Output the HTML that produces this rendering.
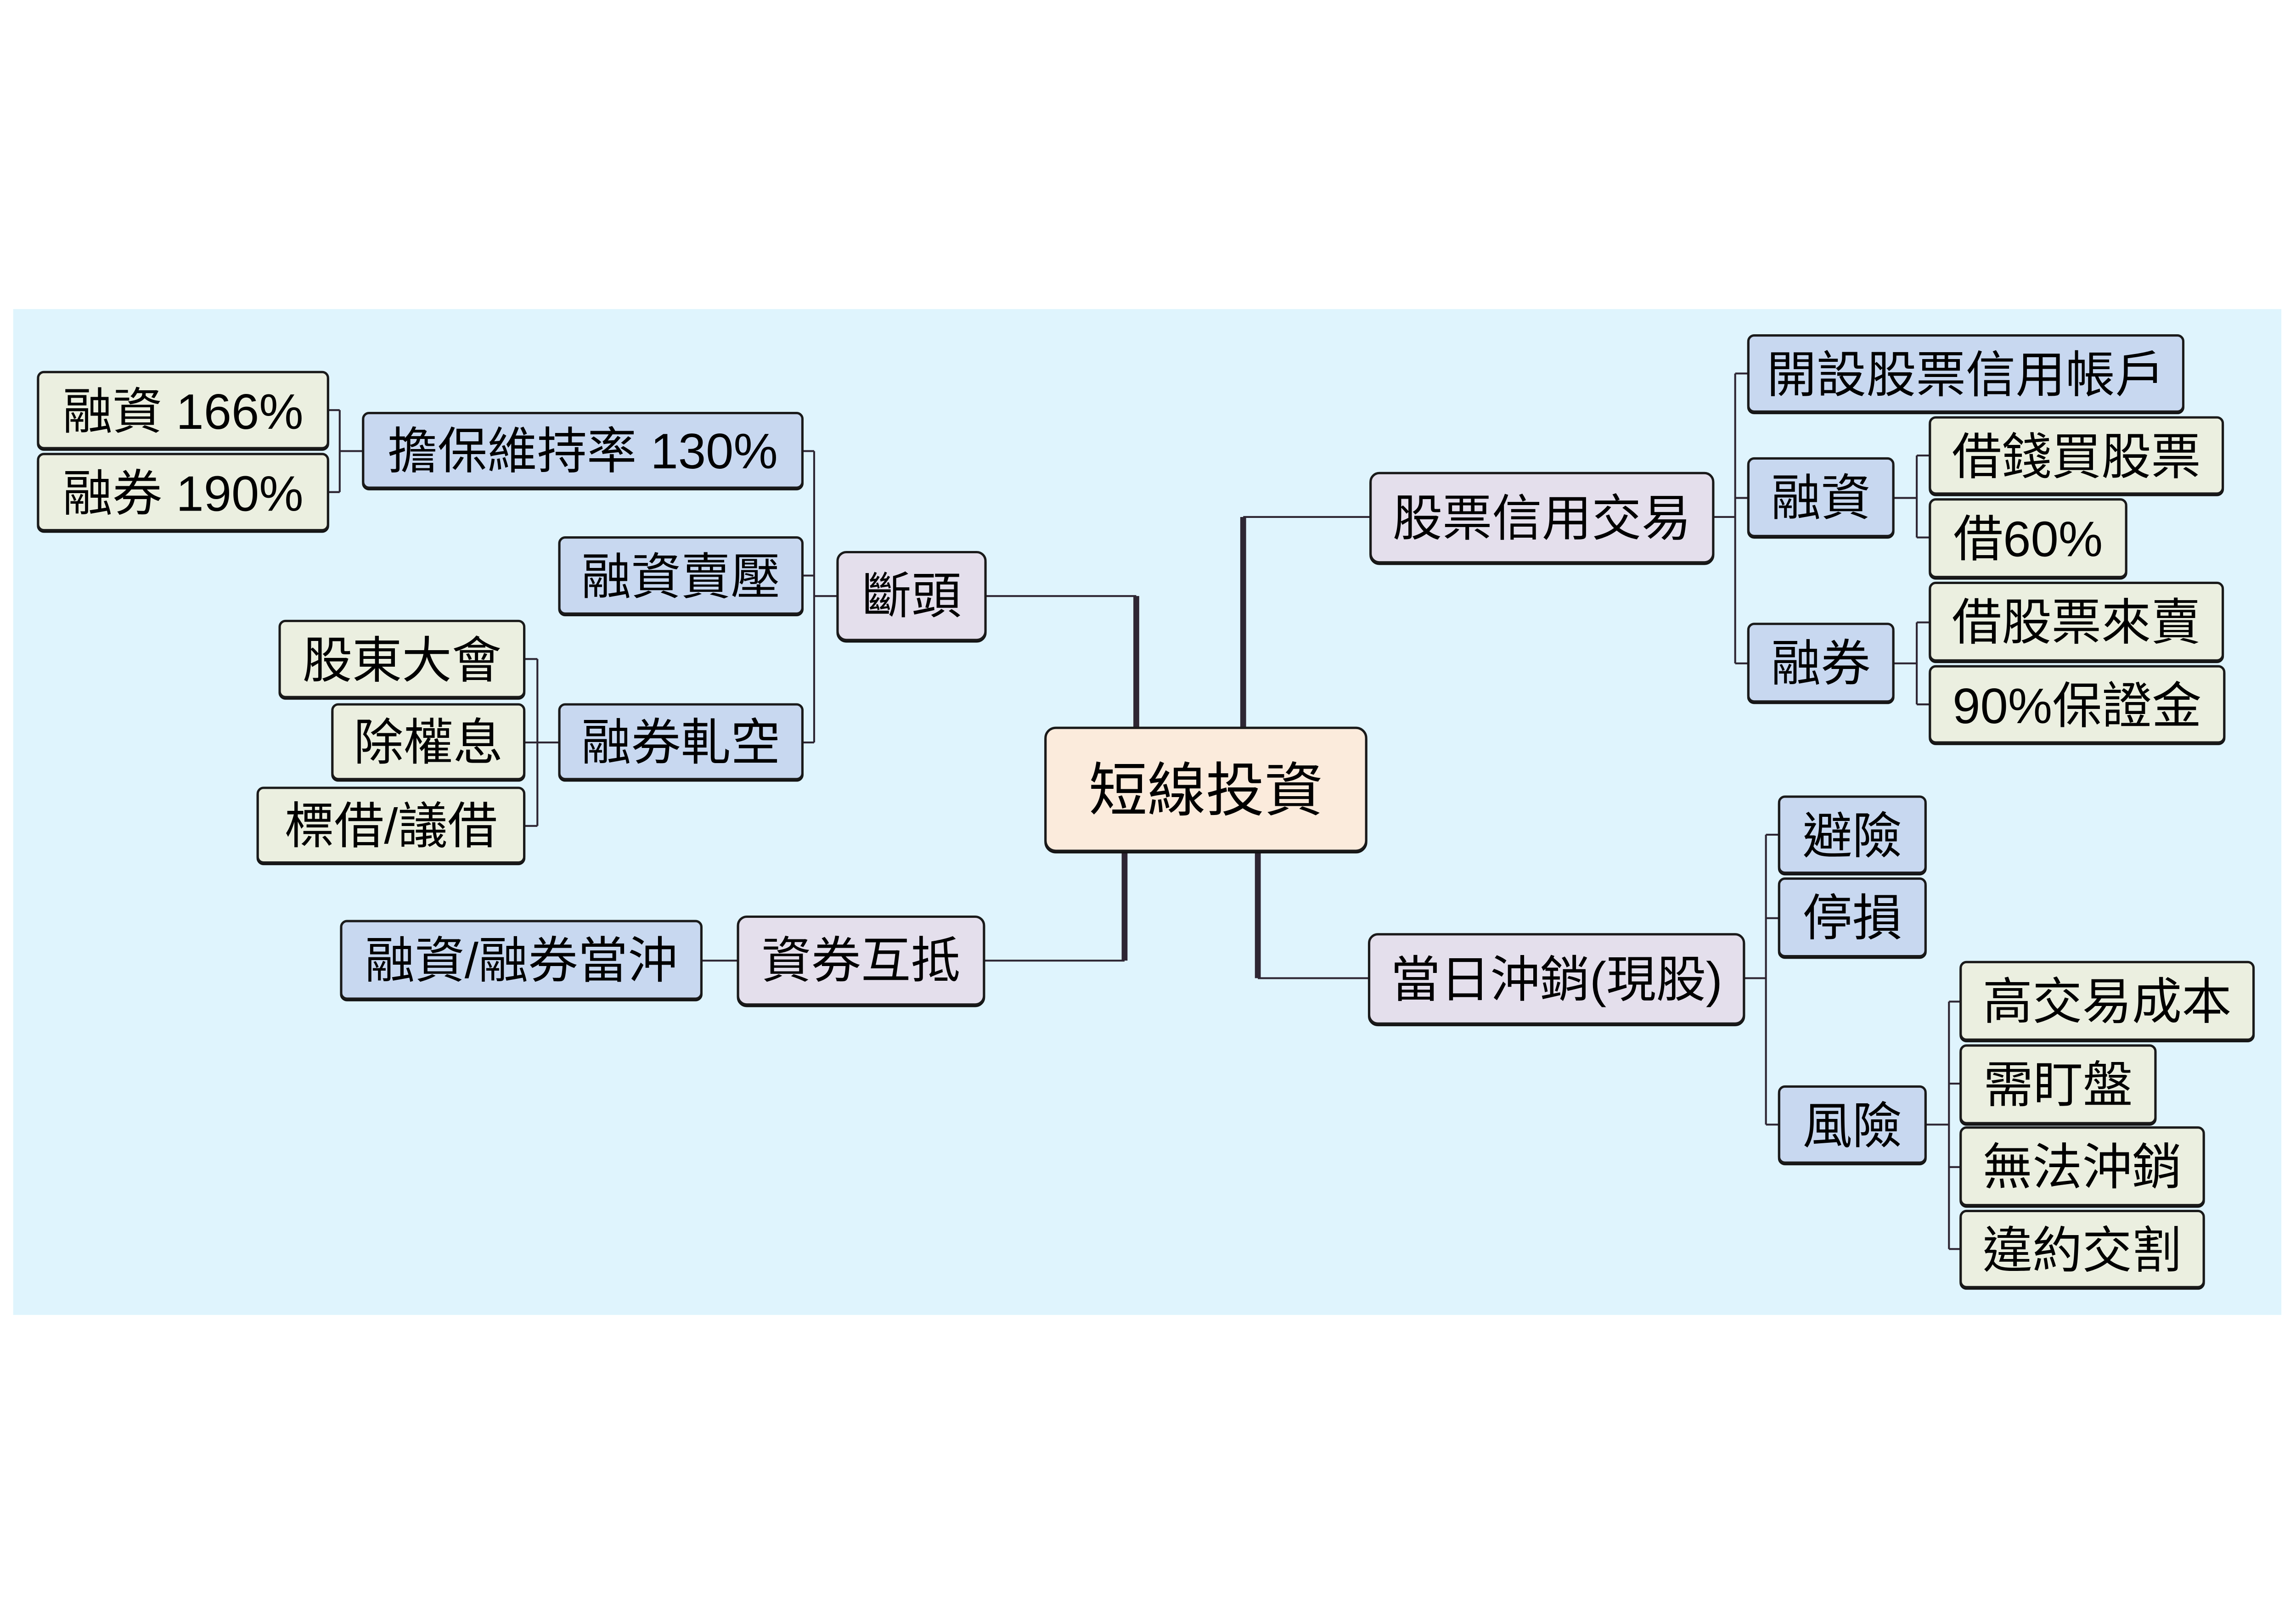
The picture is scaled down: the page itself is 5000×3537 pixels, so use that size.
<!DOCTYPE html>
<html><head><meta charset="utf-8"><style>
html,body{margin:0;padding:0;background:#fff;width:5000px;height:3537px;overflow:hidden}
svg{display:block}
text{font-family:"Liberation Sans","Noto Sans CJK TC","Noto Sans CJK SC",sans-serif;fill:#000;text-anchor:middle;dominant-baseline:central}
.c{fill:#fbebdc}.l{fill:#e4dfec}.b{fill:#c8d8f0}.g{fill:#ebefe0}
rect.n{stroke:#1a1a1a;stroke-width:1.6;filter:drop-shadow(0 1.6px 0 #111)}
.t{stroke:#2e2633;stroke-width:1.3;fill:none}
.k{stroke:#2e2633;stroke-width:4;fill:none}
</style></head><body>
<svg width="5000" height="3537" viewBox="0 0 1568 1109" xmlns="http://www.w3.org/2000/svg">
<rect x="0" y="0" width="1568" height="1109" fill="#fff"/>
<rect x="9" y="211" width="1549" height="687" fill="#dff4fd"/>

<path class="k" d="M849 497 V353"/><path class="t" d="M849 353 H936"/>
<path class="k" d="M776 497 V407"/><path class="t" d="M776 407 H673"/>
<path class="k" d="M768 581 V656"/><path class="t" d="M768 656 H672"/>
<path class="k" d="M859 581 V668"/><path class="t" d="M859 668 H935"/>

<path class="t" d="M1170 353 H1185 M1185 255 V453 M1185 255 H1194 M1185 340 H1194 M1185 453 H1194"/>
<path class="t" d="M1293 340 H1309 M1309 311 V367 M1309 311 H1318 M1309 367 H1318"/>
<path class="t" d="M1293 453 H1309 M1309 425 V481 M1309 425 H1318 M1309 481 H1318"/>
<path class="t" d="M1191 668 H1206 M1206 570 V768 M1206 570 H1215 M1206 627 H1215 M1206 768 H1215"/>
<path class="t" d="M1315 768 H1331 M1331 684 V853 M1331 684 H1339 M1331 740 H1339 M1331 797 H1339 M1331 853 H1339"/>
<path class="t" d="M572 407 H556 M556 308 V507 M556 308 H548 M556 393 H548 M556 507 H548"/>
<path class="t" d="M248 308 H232 M232 280 V336 M232 280 H224 M232 336 H224"/>
<path class="t" d="M382 507 H367 M367 450 V564 M367 450 H358 M367 507 H358 M367 564 H358"/>
<path class="t" d="M504 656 H479"/>

<rect class="n c" x="714" y="497" width="219" height="84" rx="7"/>
<text x="823.5" y="540" font-size="40">短線投資</text>

<rect class="n l" x="936" y="323" width="234" height="61" rx="6"/><text x="1053" y="354" font-size="34">股票信用交易</text>
<rect class="n l" x="935" y="638" width="256" height="61" rx="6"/><text x="1063" y="669" font-size="34">當日沖銷(現股)</text>
<rect class="n l" x="572" y="377" width="101" height="60" rx="6"/><text x="622.5" y="407" font-size="34">斷頭</text>
<rect class="n l" x="504" y="626" width="168" height="60" rx="6"/><text x="588" y="656" font-size="34">資券互抵</text>

<g>
<rect class="n b" x="1194" y="229" width="297" height="52" rx="4"/><text x="1342.5" y="256" font-size="34">開設股票信用帳戶</text>
<rect class="n b" x="1194" y="313" width="99" height="53" rx="4"/><text x="1243.5" y="340" font-size="34">融資</text>
<rect class="n b" x="1194" y="426" width="99" height="53" rx="4"/><text x="1243.5" y="453" font-size="34">融券</text>
<rect class="n b" x="1215" y="544" width="100" height="52" rx="4"/><text x="1265" y="571" font-size="34">避險</text>
<rect class="n b" x="1215" y="600" width="100" height="53" rx="4"/><text x="1265" y="627" font-size="34">停損</text>
<rect class="n b" x="1215" y="742" width="100" height="52" rx="4"/><text x="1265" y="769" font-size="34">風險</text>
<rect class="n b" x="248" y="282" width="300" height="51" rx="4"/><text x="398" y="308" font-size="34">擔保維持率 130%</text>
<rect class="n b" x="382" y="367" width="166" height="52" rx="4"/><text x="465" y="394" font-size="34">融資賣壓</text>
<rect class="n b" x="382" y="481" width="166" height="51" rx="4"/><text x="465" y="507" font-size="34">融券軋空</text>
<rect class="n b" x="233" y="629" width="246" height="53" rx="4"/><text x="356" y="656" font-size="34">融資/融券當沖</text>
</g>

<g>
<rect class="n g" x="1318" y="285" width="200" height="52" rx="4"/><text x="1418" y="312" font-size="34">借錢買股票</text>
<rect class="n g" x="1318" y="341" width="134" height="53" rx="4"/><text x="1385" y="368" font-size="34">借60%</text>
<rect class="n g" x="1318" y="398" width="200" height="53" rx="4"/><text x="1418" y="425" font-size="34">借股票來賣</text>
<rect class="n g" x="1318" y="455" width="201" height="52" rx="4"/><text x="1418.5" y="482" font-size="34">90%保證金</text>
<rect class="n g" x="1339" y="657" width="200" height="53" rx="4"/><text x="1439" y="684" font-size="34">高交易成本</text>
<rect class="n g" x="1339" y="714" width="133" height="53" rx="4"/><text x="1405.5" y="741" font-size="34">需盯盤</text>
<rect class="n g" x="1339" y="770" width="166" height="53" rx="4"/><text x="1422" y="797" font-size="34">無法沖銷</text>
<rect class="n g" x="1339" y="827" width="166" height="52" rx="4"/><text x="1422" y="854" font-size="34">違約交割</text>
<rect class="n g" x="26" y="254" width="198" height="52" rx="4"/><text x="125" y="281" font-size="34">融資 166%</text>
<rect class="n g" x="26" y="310" width="198" height="52" rx="4"/><text x="125" y="337" font-size="34">融券 190%</text>
<rect class="n g" x="191" y="424" width="167" height="52" rx="4"/><text x="274.5" y="451" font-size="34">股東大會</text>
<rect class="n g" x="227" y="481" width="131" height="51" rx="4"/><text x="292.5" y="507" font-size="34">除權息</text>
<rect class="n g" x="176" y="538" width="182" height="51" rx="4"/><text x="267" y="564" font-size="34">標借/議借</text>
</g>
</svg>
</body></html>
